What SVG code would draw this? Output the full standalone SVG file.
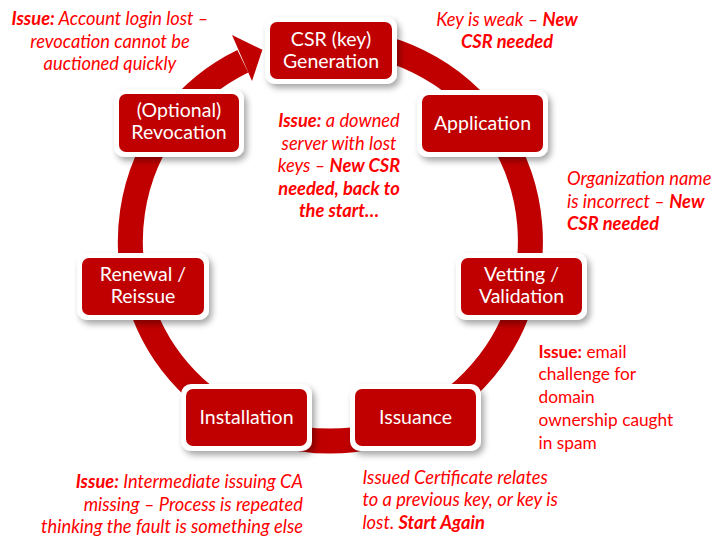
<svg xmlns="http://www.w3.org/2000/svg" width="727" height="536" viewBox="0 0 727 536">
  <defs>
    <filter id="shadow" x="-20%" y="-20%" width="150%" height="160%">
      <feDropShadow dx="3" dy="4" stdDeviation="3" flood-color="#000" flood-opacity="0.35"/>
    </filter>
    <style>
      .ring { fill: none; stroke: #C00000; stroke-width: 25; }
      .head { fill: #C00000; }
      .frame { fill: #FFFFFF; filter: url(#shadow); }
      .box { fill: #C00000; }
      .lbl { font-family: "Lato", "Liberation Sans", sans-serif; font-size: 19.5px; fill: #FFFFFF; text-anchor: middle; }
      .note { font-family: "Lato", "Liberation Sans", sans-serif; font-size: 18.3px; fill: #FF0000; font-style: italic; }
      .up { font-style: normal; font-size: 17.3px; }
      .b { font-weight: bold; }
      .mid { text-anchor: middle; }
      .end { text-anchor: end; }
    </style>
  </defs>
  <rect width="727" height="536" fill="#FFFFFF"/>

  <!-- cycle ring with arrowhead back into key generation -->
  <g id="connectors">
    <path class="ring" d="M 330.5 41 A 200 200 0 1 1 242.8 61.2"/>
    <polygon class="head" points="232,35 262.4,49.8 252,81"/>
  </g>

  <!-- lifecycle stages -->
  <g id="csr">
    <rect class="frame" x="265" y="17" width="132" height="67" rx="10"/>
    <rect class="box" x="270" y="22" width="122" height="57" rx="7"/>
    <text class="lbl" x="331" y="46">CSR (key)</text>
    <text class="lbl" x="331" y="68">Generation</text>
  </g>
  <g id="application">
    <rect class="frame" x="417" y="90" width="131" height="67" rx="10"/>
    <rect class="box" x="422" y="95" width="121" height="57" rx="7"/>
    <text class="lbl" x="482.5" y="130">Application</text>
  </g>
  <g id="vetting">
    <rect class="frame" x="456" y="253" width="131" height="67" rx="10"/>
    <rect class="box" x="461" y="258" width="121" height="57" rx="7"/>
    <text class="lbl" x="521.5" y="281">Vetting /</text>
    <text class="lbl" x="521.5" y="303">Validation</text>
  </g>
  <g id="issuance">
    <rect class="frame" x="350" y="384" width="131" height="67" rx="10"/>
    <rect class="box" x="355" y="389" width="121" height="57" rx="7"/>
    <text class="lbl" x="415.5" y="424">Issuance</text>
  </g>
  <g id="installation">
    <rect class="frame" x="181" y="384" width="131" height="67" rx="10"/>
    <rect class="box" x="186" y="389" width="121" height="57" rx="7"/>
    <text class="lbl" x="246.5" y="424">Installation</text>
  </g>
  <g id="renewal">
    <rect class="frame" x="77" y="253" width="132" height="67" rx="10"/>
    <rect class="box" x="82" y="258" width="122" height="57" rx="7"/>
    <text class="lbl" x="143" y="281">Renewal /</text>
    <text class="lbl" x="143" y="303">Reissue</text>
  </g>
  <g id="revocation">
    <rect class="frame" x="114" y="89" width="130" height="68" rx="10"/>
    <rect class="box" x="119" y="94" width="120" height="58" rx="7"/>
    <text class="lbl" x="179" y="117">(Optional)</text>
    <text class="lbl" x="179" y="139">Revocation</text>
  </g>

  <!-- issue annotations -->
  <g id="note-revocation" class="note mid">
    <text x="110" y="25"><tspan class="b">Issue:</tspan> Account login lost –</text>
    <text x="110" y="47.5">revocation cannot be</text>
    <text x="110" y="70">auctioned quickly</text>
  </g>
  <g id="note-key" class="note mid">
    <text x="507" y="25.5">Key is weak – <tspan class="b">New</tspan></text>
    <text x="507" y="48" class="b">CSR needed</text>
  </g>
  <g id="note-server" class="note mid">
    <text x="339" y="127"><tspan class="b">Issue:</tspan> a downed</text>
    <text x="339" y="149.5">server with lost</text>
    <text x="339" y="172">keys – <tspan class="b">New CSR</tspan></text>
    <text x="339" y="194.5" class="b">needed, back to</text>
    <text x="339" y="217" class="b">the start…</text>
  </g>
  <g id="note-org" class="note">
    <text x="567" y="185">Organization name</text>
    <text x="567" y="207.5">is incorrect – <tspan class="b">New</tspan></text>
    <text x="567" y="230" class="b">CSR needed</text>
  </g>
  <g id="note-email" class="note up">
    <text x="538.5" y="357.7"><tspan class="b">Issue:</tspan> email</text>
    <text x="538.5" y="380.4">challenge for</text>
    <text x="538.5" y="403.1">domain</text>
    <text x="538.5" y="425.8">ownership caught</text>
    <text x="538.5" y="448.5">in spam</text>
  </g>
  <g id="note-ca" class="note end">
    <text x="303" y="488"><tspan class="b">Issue:</tspan> Intermediate issuing CA</text>
    <text x="303" y="510.7">missing – Process is repeated</text>
    <text x="303" y="533.4">thinking the fault is something else</text>
  </g>
  <g id="note-cert" class="note">
    <text x="362.5" y="483.5">Issued Certificate relates</text>
    <text x="362.5" y="506.2">to a previous key, or key is</text>
    <text x="362.5" y="528.9">lost. <tspan class="b">Start Again</tspan></text>
  </g>
</svg>
